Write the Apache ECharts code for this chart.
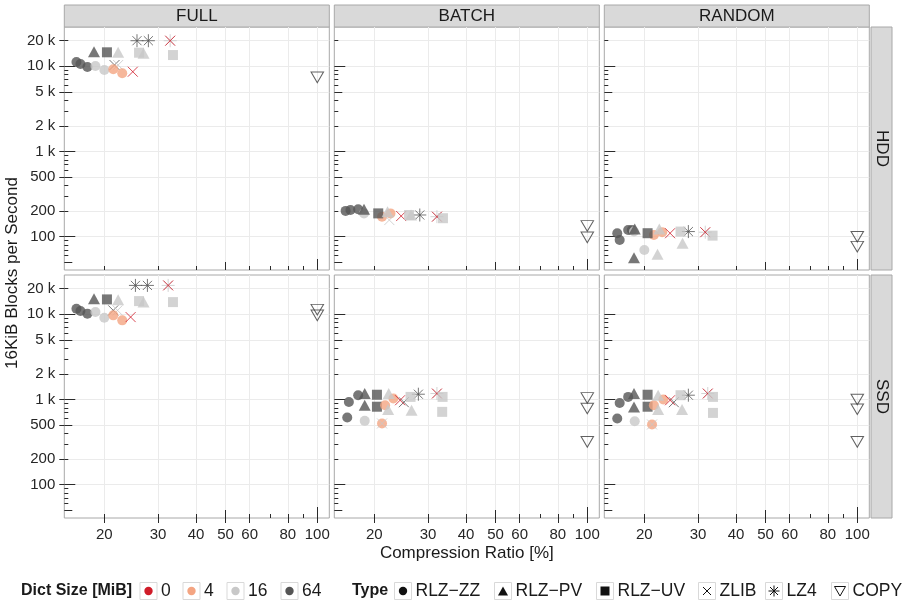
<!DOCTYPE html>
<html><head><meta charset="utf-8">
<script src="https://cdn.jsdelivr.net/npm/echarts@6/dist/echarts.min.js"></script>
<style>html,body{margin:0;padding:0;background:#fff}#c{width:912px;height:602px}</style>
</head><body><div id="c"></div><script>
// ---------- labels ----------
const COLUMNS = ['FULL', 'BATCH', 'RANDOM'];
const ROWS = ['HDD', 'SSD'];
const DICT_SIZES = [0, 4, 16, 64];
const TYPE_KEYS = ['ZZ', 'PV', 'UV', 'ZLIB', 'LZ4', 'COPY'];
const TYPE_NAMES = ['RLZ\u2212ZZ', 'RLZ\u2212PV', 'RLZ\u2212UV', 'ZLIB', 'LZ4', 'COPY'];
const X_TICKS = [20, 30, 40, 50, 60, 80, 100];
const Y_TICKS = [100, 200, 500, 1000, 2000, 5000, 10000, 20000];
const X_TITLE = 'Compression Ratio [%]';
const Y_TITLE = '16KiB Blocks per Second';

// ---------- data: [compression ratio %, blocks per second, type, dict MiB] ----------
const FULL_HDD = [
  [16.2, 11250, 'ZZ', 64], [16.7, 10650, 'ZZ', 64], [17.6, 9820, 'ZZ', 64],
  [18.7, 10100, 'ZZ', 16], [20.0, 9060, 'ZZ', 16],
  [21.6, 10370, 'ZLIB', 64], [22.2, 10370, 'ZLIB', 16],
  [21.4, 9230, 'ZZ', 4], [22.9, 8290, 'ZZ', 4],
  [24.8, 8650, 'ZLIB', 0],
  [18.5, 14850, 'PV', 64], [20.4, 14620, 'UV', 64], [22.2, 14620, 'PV', 16],
  [26.9, 14220, 'PV', 16], [26.0, 14460, 'UV', 16], [33.6, 13580, 'UV', 16],
  [25.6, 20000, 'LZ4', 64], [27.9, 20000, 'LZ4', 64],
  [32.9, 20000, 'LZ4', 16], [32.9, 20000, 'ZLIB', 0],
  [100, 7440, 'COPY', 0]
];
const BATCH_HDD = [
  [16.1, 201, 'ZZ', 64], [16.7, 206, 'ZZ', 64], [17.7, 210, 'ZZ', 64],
  [18.5, 188, 'ZZ', 16], [18.5, 210, 'PV', 64],
  [21.2, 172, 'ZZ', 4], [22.6, 188, 'ZZ', 4],
  [20.6, 188, 'UV', 64], [22.1, 197, 'PV', 16],
  [22.4, 157, 'ZLIB', 16], [24.5, 175, 'ZLIB', 0],
  [28.2, 180, 'LZ4', 64], [26.0, 180, 'UV', 16], [26.4, 180, 'PV', 16],
  [32.1, 172, 'LZ4', 16], [32.1, 172, 'ZLIB', 0], [33.6, 165, 'UV', 16],
  [100, 134, 'COPY', 0], [100, 98.5, 'COPY', 0]
];
const RANDOM_HDD = [
  [16.3, 110, 'ZZ', 64], [16.6, 91.6, 'ZZ', 64], [17.7, 120, 'ZZ', 64], [18.2, 120, 'ZZ', 64],
  [18.5, 115, 'ZZ', 16], [18.6, 123, 'PV', 64],
  [21.5, 105, 'ZZ', 4], [22.9, 113, 'ZZ', 4],
  [20.5, 110, 'UV', 64], [22.4, 123, 'PV', 16],
  [24.3, 110, 'ZLIB', 0],
  [27.9, 115, 'LZ4', 64], [26.3, 115, 'UV', 16], [26.7, 84, 'PV', 16],
  [31.7, 113, 'LZ4', 16], [31.7, 113, 'ZLIB', 0], [33.5, 103, 'UV', 16],
  [18.5, 56.8, 'PV', 64], [20.0, 69.9, 'ZZ', 16], [22.1, 62.2, 'PV', 16],
  [100, 100, 'COPY', 0], [100, 76.4, 'COPY', 0]
];
const FULL_SSD = [
  [16.2, 11660, 'ZZ', 64], [16.7, 10930, 'ZZ', 64], [17.6, 10190, 'ZZ', 64],
  [18.7, 10640, 'ZZ', 16], [20.0, 9140, 'ZZ', 16],
  [21.4, 11140, 'ZLIB', 64], [22.1, 11140, 'ZLIB', 16],
  [21.4, 9730, 'ZZ', 4], [22.9, 8500, 'ZZ', 4],
  [24.4, 9290, 'ZLIB', 0],
  [18.5, 15270, 'PV', 64], [20.4, 14980, 'UV', 64], [22.2, 14860, 'PV', 16],
  [26.9, 13930, 'PV', 16], [26.0, 14310, 'UV', 16], [33.6, 13930, 'UV', 16],
  [25.3, 21860, 'LZ4', 64], [27.7, 21860, 'LZ4', 64],
  [32.4, 21860, 'LZ4', 16], [32.4, 21860, 'ZLIB', 0],
  [100, 11350, 'COPY', 0], [100, 9730, 'COPY', 0]
];
const BATCH_SSD = [
  [16.5, 938, 'ZZ', 64], [16.3, 616, 'ZZ', 64], [17.7, 1125, 'ZZ', 64],
  [18.6, 1177, 'PV', 64], [18.6, 858, 'PV', 64], [18.6, 562, 'ZZ', 16],
  [20.4, 1139, 'UV', 64], [20.4, 824, 'UV', 64],
  [21.7, 858, 'ZZ', 4], [23.1, 1028, 'ZZ', 4],
  [22.3, 1177, 'PV', 16], [22.2, 764, 'PV', 16],
  [21.2, 524, 'ZZ', 4], [21.2, 524, 'ZLIB', 16],
  [25.0, 930, 'ZLIB', 64], [24.3, 982, 'ZLIB', 0],
  [27.9, 1155, 'LZ4', 64], [26.3, 1074, 'UV', 16], [26.5, 750, 'PV', 16],
  [32.1, 1177, 'LZ4', 16], [32.1, 1177, 'ZLIB', 0], [33.5, 1074, 'UV', 16], [33.4, 717, 'UV', 16],
  [100, 1045, 'COPY', 0], [100, 785, 'COPY', 0], [100, 319, 'COPY', 0]
];
const RANDOM_SSD = [
  [16.6, 913, 'ZZ', 64], [16.3, 600, 'ZZ', 64], [17.7, 1074, 'ZZ', 64],
  [18.5, 1177, 'PV', 64], [18.5, 820, 'PV', 64], [18.6, 557, 'ZZ', 16],
  [20.5, 1139, 'UV', 64], [20.5, 824, 'UV', 64],
  [21.5, 858, 'ZZ', 4], [23.1, 1001, 'ZZ', 4],
  [22.2, 1125, 'PV', 16], [22.2, 764, 'PV', 16],
  [21.2, 510, 'ZZ', 4], [21.2, 510, 'ZLIB', 16],
  [25.0, 930, 'ZLIB', 64], [24.3, 982, 'ZLIB', 0],
  [27.9, 1125, 'LZ4', 64], [26.3, 1125, 'UV', 16], [26.6, 764, 'PV', 16],
  [32.3, 1177, 'LZ4', 16], [32.3, 1177, 'ZLIB', 0], [33.6, 1074, 'UV', 16], [33.6, 697, 'UV', 16],
  [100, 1001, 'COPY', 0], [100, 770, 'COPY', 0], [100, 319, 'COPY', 0]
];
const PANELS = [[FULL_HDD, BATCH_HDD, RANDOM_HDD], [FULL_SSD, BATCH_SSD, RANDOM_SSD]];

// ---------- styling / layout ----------
const FONT = 'Liberation Sans, Arial, Helvetica, sans-serif';
const DICT_COLORS = {0: '#d01c29', 4: '#f4a582', 16: '#c8c8c8', 64: '#555555'};
const COPY_COLOR = '#3a3a3a';
const SYM = {
  ZZ: {symbol: 'circle', size: 10},
  PV: {symbol: 'triangle', size: [12, 11]},
  UV: {symbol: 'rect', size: 10},
  ZLIB: {symbol: 'path://M0,0L10,10M10,0L0,10', size: 10, line: true},
  LZ4: {symbol: 'path://M1.5,1.5L8.5,8.5M8.5,1.5L1.5,8.5M5,0L5,10M0,5L10,5', size: 13, line: true},
  COPY: {symbol: 'path://M0,0L10,0L5,8.5Z', size: [12.5, 10.6], line: true, open: true}
};
const COL_LEFT = [64.3, 334.3, 604.3], COL_W = 265;
const ROW_TOP = [27, 275], ROW_H = 243;
const XMIN = 14.78, XMAX = 109.5, YMIN = 40.7, YMAX = 28970;
const LOG_X_SHORT = [20, 30, 40, 60, 70, 80, 90], LOG_X_MID = [50], LOG_X_LONG = [100];
const LOG_Y_SHORT = [60, 70, 80, 90, 200, 300, 400, 600, 700, 800, 900, 2000, 3000, 4000, 6000, 7000, 8000, 9000, 20000];
const LOG_Y_MID = [50, 500, 5000], LOG_Y_LONG = [100, 1000, 10000];

const grids = [], xAxes = [], yAxes = [], series = [], graphics = [];
const tickColor = '#2a2a2a';

function logTickAxis(g, vals, len, pos) {
  return {type: 'log', gridIndex: g, min: pos === 'bottom' ? XMIN : YMIN, max: pos === 'bottom' ? XMAX : YMAX,
    position: pos, axisLine: {show: false}, axisLabel: {show: false}, splitLine: {show: false},
    axisTick: {show: true, inside: true, length: len, customValues: vals, lineStyle: {color: tickColor, width: 1}}};
}

for (let r = 0; r < 2; r++) {
  for (let c = 0; c < 3; c++) {
    const g = grids.length;
    grids.push({left: COL_LEFT[c], top: ROW_TOP[r], width: COL_W, height: ROW_H, show: true,
      backgroundColor: '#fff', borderColor: '#a8a8a8', borderWidth: 1, outerBoundsMode: 'none', containLabel: false});
    xAxes.push({type: 'log', gridIndex: g, min: XMIN, max: XMAX, position: 'bottom',
      axisLine: {show: false},
      axisTick: {show: r === 1, inside: false, length: 5, customValues: X_TICKS, lineStyle: {color: tickColor}},
      axisLabel: {show: r === 1, customValues: X_TICKS, margin: 9, color: '#262626', fontSize: 15, fontFamily: FONT,
        formatter: v => String(Math.round(v))},
      splitLine: {show: true, lineStyle: {color: '#ebebeb', width: 1}}});
    xAxes.push(logTickAxis(g, LOG_X_SHORT, 4, 'bottom'));
    xAxes.push(logTickAxis(g, LOG_X_MID, 8, 'bottom'));
    xAxes.push(logTickAxis(g, LOG_X_LONG, 11, 'bottom'));
    yAxes.push({type: 'log', gridIndex: g, min: YMIN, max: YMAX, position: 'left',
      axisLine: {show: false},
      axisTick: {show: c === 0, inside: false, length: 5, customValues: Y_TICKS, lineStyle: {color: tickColor}},
      axisLabel: {show: c === 0, customValues: Y_TICKS, margin: 9, color: '#262626', fontSize: 15, fontFamily: FONT,
        formatter: v => { const n = Math.round(v); return n >= 1000 ? (n / 1000) + ' k' : String(n); }},
      splitLine: {show: true, lineStyle: {color: '#ebebeb', width: 1}}});
    yAxes.push(logTickAxis(g, LOG_Y_SHORT, 4, 'left'));
    yAxes.push(logTickAxis(g, LOG_Y_MID, 8, 'left'));
    yAxes.push(logTickAxis(g, LOG_Y_LONG, 11, 'left'));

    const data = PANELS[r][c].map(p => {
      const s = SYM[p[2]];
      const col = p[2] === 'COPY' ? COPY_COLOR : DICT_COLORS[p[3]];
      return {
        value: [p[0], p[1]], symbol: s.symbol, symbolSize: s.size,
        itemStyle: s.line ? {color: s.open ? 'rgba(0,0,0,0)' : col, borderColor: col, borderWidth: 1}
                          : {color: col, borderWidth: 0}
      };
    });
    series.push({type: 'scatter', xAxisIndex: g * 4, yAxisIndex: g * 4, data: data,
      silent: true, animation: false, emphasis: {disabled: true}, clip: false});

    // column strip
    if (r === 0) {
      graphics.push({type: 'rect', shape: {x: COL_LEFT[c], y: 5, width: COL_W, height: 22},
        style: {fill: '#d9d9d9', stroke: '#a8a8a8', lineWidth: 1}});
      graphics.push({type: 'text', x: COL_LEFT[c] + COL_W / 2, y: 16.5,
        style: {text: COLUMNS[c], align: 'center', verticalAlign: 'middle', font: '17px ' + FONT, fill: '#1a1a1a'}});
    }
  }
  // row strip
  graphics.push({type: 'rect', shape: {x: 871, y: ROW_TOP[r], width: 21, height: ROW_H},
    style: {fill: '#d9d9d9', stroke: '#a8a8a8', lineWidth: 1}});
  graphics.push({type: 'text', x: 881.5, y: ROW_TOP[r] + ROW_H / 2, rotation: -Math.PI / 2,
    style: {text: ROWS[r], align: 'center', verticalAlign: 'middle', font: '17px ' + FONT, fill: '#1a1a1a'}});
}

// axis titles
graphics.push({type: 'text', x: 466.8, y: 553, style: {text: X_TITLE, align: 'center', verticalAlign: 'middle', font: '17px ' + FONT, fill: '#1a1a1a'}});
graphics.push({type: 'text', x: 12, y: 273, rotation: Math.PI / 2, style: {text: Y_TITLE, align: 'center', verticalAlign: 'middle', font: '17px ' + FONT, fill: '#1a1a1a'}});

// legend
const LY = 591;
const LFONT = '17.5px ' + FONT;
graphics.push({type: 'text', x: 21, y: LY, style: {text: 'Dict Size [MiB]', verticalAlign: 'middle', font: 'bold 16px ' + FONT, fill: '#1a1a1a'}});
const dictBoxX = [140, 183, 227, 281];
DICT_SIZES.forEach((d, i) => {
  const bx = dictBoxX[i];
  graphics.push({type: 'rect', shape: {x: bx, y: LY - 8.5, width: 17, height: 17}, style: {fill: '#fff', stroke: '#d9d9d9', lineWidth: 1}});
  graphics.push({type: 'circle', shape: {cx: bx + 8.5, cy: LY, r: 4.2}, style: {fill: DICT_COLORS[d]}});
  graphics.push({type: 'text', x: bx + 21, y: LY, style: {text: String(d), verticalAlign: 'middle', font: LFONT, fill: '#1a1a1a'}});
});
graphics.push({type: 'text', x: 352, y: LY, style: {text: 'Type', verticalAlign: 'middle', font: 'bold 16px ' + FONT, fill: '#1a1a1a'}});
const typeBoxX = [394.5, 494.5, 596.5, 698.5, 765.5, 831.5];
TYPE_KEYS.forEach((t, i) => {
  const bx = typeBoxX[i], cx = bx + 8.5;
  graphics.push({type: 'rect', shape: {x: bx, y: LY - 8.5, width: 17, height: 17}, style: {fill: '#fff', stroke: '#d9d9d9', lineWidth: 1}});
  const k = '#111';
  if (t === 'ZZ') graphics.push({type: 'circle', shape: {cx: cx, cy: LY, r: 4.2}, style: {fill: k}});
  if (t === 'PV') graphics.push({type: 'polygon', shape: {points: [[cx - 5, LY + 4.5], [cx + 5, LY + 4.5], [cx, LY - 4.5]]}, style: {fill: k}});
  if (t === 'UV') graphics.push({type: 'rect', shape: {x: cx - 4.5, y: LY - 4.5, width: 9, height: 9}, style: {fill: k}});
  if (t === 'ZLIB' || t === 'LZ4') {
    graphics.push({type: 'polyline', shape: {points: [[cx - 4, LY - 4], [cx + 4, LY + 4]]}, style: {stroke: k, lineWidth: 1}});
    graphics.push({type: 'polyline', shape: {points: [[cx + 4, LY - 4], [cx - 4, LY + 4]]}, style: {stroke: k, lineWidth: 1}});
  }
  if (t === 'LZ4') {
    graphics.push({type: 'polyline', shape: {points: [[cx, LY - 5.5], [cx, LY + 5.5]]}, style: {stroke: k, lineWidth: 1}});
    graphics.push({type: 'polyline', shape: {points: [[cx - 5.5, LY], [cx + 5.5, LY]]}, style: {stroke: k, lineWidth: 1}});
  }
  if (t === 'COPY') graphics.push({type: 'polygon', shape: {points: [[cx - 5.5, LY - 4.5], [cx + 5.5, LY - 4.5], [cx, LY + 5]]}, style: {fill: 'none', stroke: k, lineWidth: 1}});
  graphics.push({type: 'text', x: bx + 21, y: LY, style: {text: TYPE_NAMES[i], verticalAlign: 'middle', font: LFONT, fill: '#1a1a1a'}});
});

const chart = echarts.init(document.getElementById('c'), null, {renderer: 'canvas'});
chart.setOption({
  animation: false,
  backgroundColor: '#fff',
  grid: grids, xAxis: xAxes, yAxis: yAxes, series: series,
  graphic: {elements: graphics}
});
</script></body></html>
